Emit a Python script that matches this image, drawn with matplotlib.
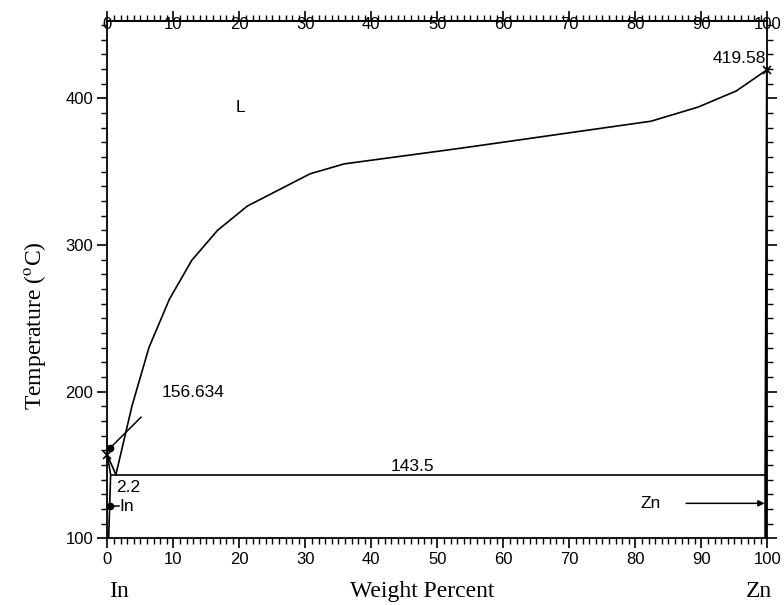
import matplotlib
matplotlib.use("Agg")
import matplotlib.pyplot as plt
from matplotlib.ticker import MultipleLocator
import matplotlib.transforms as mtransforms

plt.rcParams['font.family'] = ['Liberation Sans', 'DejaVu Sans']
plt.rcParams['mathtext.fontset'] = 'stix'

# ---- data (wt% Zn, temperature degC) ----
liq_x = [1.3, 3.75, 6.3, 9.4, 12.8, 16.7, 21.2, 30.7, 35.9, 53.6, 82.4, 89.5, 95.3, 100.0]
liq_T = [143.5, 190.5, 230.0, 263.0, 289.6, 310.0, 326.5, 348.5, 355.3, 366.0, 384.4, 394.0, 405.0, 419.58]

in_liq_x = [0.0, 1.3]
in_liq_T = [156.634, 143.5]

in_sol_x = [0.0, 0.5, 0.2]
in_sol_T = [156.634, 143.5, 100.0]

eut_x = [0.5, 99.75]
eut_T = [143.5, 143.5]

zn_sol_x = [100.0, 99.75, 99.75]
zn_sol_T = [419.58, 143.5, 100.0]

melt_x = [0.0, 100.0]
melt_T = [156.634, 419.58]

xticks = [0, 10, 20, 30, 40, 50, 60, 70, 80, 90, 100]
yticks = [100, 200, 300, 400]

fig = plt.figure(figsize=(7.84, 6.05), dpi=100)
ax = fig.add_axes([0.1369, 0.1101, 0.8418, 0.8552])

lw = 1.2
ax.plot(liq_x, liq_T, color='black', lw=lw)
ax.plot(in_liq_x, in_liq_T, color='black', lw=lw)
ax.plot(in_sol_x, in_sol_T, color='black', lw=lw)
ax.plot(eut_x, eut_T, color='black', lw=lw)
ax.plot(zn_sol_x, zn_sol_T, color='black', lw=2.0)
ax.plot(melt_x, melt_T, linestyle='none', marker='x', color='black', ms=6, mew=1.2,
        clip_on=False, zorder=5)

# annotations (leader lines with dot ends)
fs = 12.5
ax.plot([0.4, 5.1], [161.5, 182.6], color='black', lw=1.1)
ax.plot([0.4], [161.5], marker='o', color='black', ms=4.5, clip_on=False)
ax.text(8.3, 199.5, '156.634', fontsize=fs, va='center', ha='left')
ax.text(1.4, 134.5, '2.2', fontsize=fs, va='center', ha='left')
ax.plot([0.35, 1.8], [122.0, 122.0], color='black', lw=1.1)
ax.plot([0.35], [122.0], marker='o', color='black', ms=4.5, clip_on=False)
ax.text(1.9, 122.0, 'In', fontsize=fs, va='center', ha='left')
ax.annotate('', xy=(99.6, 123.9), xytext=(87.7, 123.9),
            arrowprops=dict(arrowstyle='-|>', color='black', lw=1.1, mutation_scale=9,
                            shrinkA=0, shrinkB=0))
ax.text(83.8, 123.9, 'Zn', fontsize=fs, va='center', ha='right')
ax.text(46.2, 148.7, '143.5', fontsize=fs, va='center', ha='center')
ax.text(99.8, 427.3, '419.58', fontsize=fs, va='center', ha='right')
ax.text(20.1, 394.0, 'L', fontsize=fs, va='center', ha='center')

ax.set_xlim(0, 100)
ax.set_ylim(100, 452.7)

for s in ax.spines.values():
    s.set_linewidth(1.3)

ax.set_xticks(xticks)
ax.set_xticklabels([str(v) for v in xticks])
ax.xaxis.set_minor_locator(MultipleLocator(1))
ax.set_yticks(yticks)
ax.set_yticklabels([str(v) for v in yticks])
ax.yaxis.set_minor_locator(MultipleLocator(10))
ax.tick_params(axis='both', which='major', direction='out', length=7, width=1.2,
               labelsize=12, pad=3)
ax.tick_params(axis='both', which='minor', direction='out', length=4, width=1.0)
ax.tick_params(axis='y', which='both', right=True, labelright=False)

sec = ax.secondary_xaxis('top')
sec.set_xticks(xticks)
sec.set_xticklabels([str(v) for v in xticks])
sec.xaxis.set_minor_locator(MultipleLocator(1))
sec.tick_params(which='major', direction='out', length=7, width=1.2, labelsize=12, pad=-15)
sec.tick_params(which='minor', direction='out', length=4, width=1.0)
sec.spines['top'].set_linewidth(1.3)

serif = ['Liberation Serif', 'DejaVu Serif']
trans = mtransforms.blended_transform_factory(ax.transData, ax.transAxes)
ax.text(0.3, -0.102, 'In', transform=trans, fontsize=17, family=serif, ha='left', va='center')
ax.text(100.7, -0.102, 'Zn', transform=trans, fontsize=17, family=serif, ha='right', va='center')
ax.text(47.7, -0.102, 'Weight Percent', transform=trans, fontsize=17, family=serif,
        ha='center', va='center')
fig.text(35 / 784, 1 - 326 / 605, r'Temperature ($^{\mathrm{o}}$C)', fontsize=17,
         family=serif, rotation=90, ha='center', va='center')

fig.savefig('out.png', dpi=100)
